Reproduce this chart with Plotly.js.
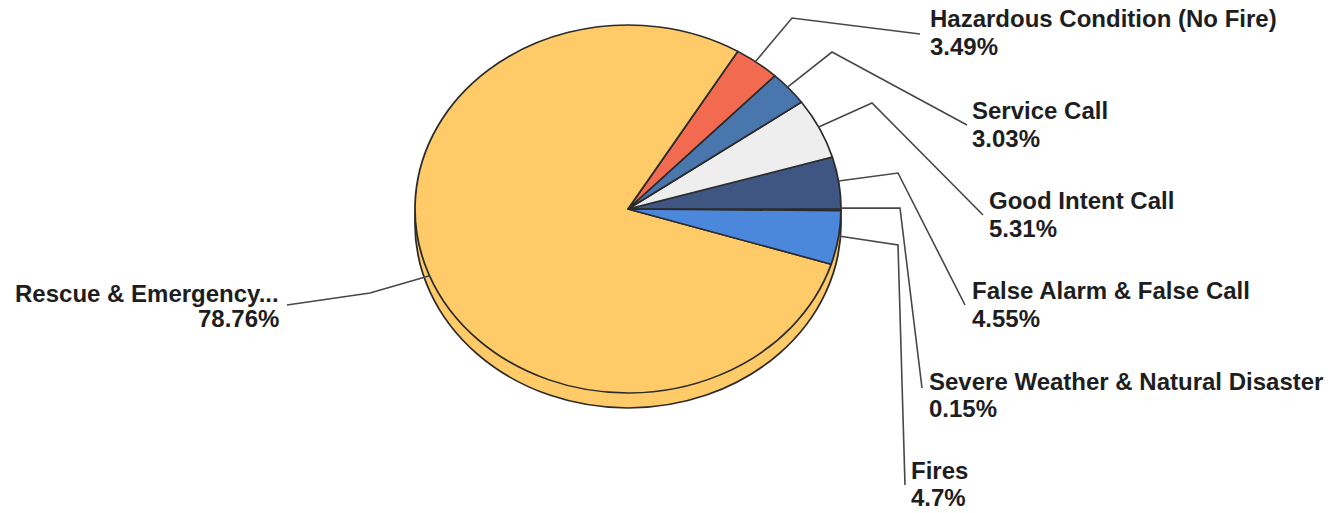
<!DOCTYPE html>
<html>
<head>
<meta charset="utf-8">
<script src="https://cdn.plot.ly/plotly-3.0.1.min.js"></script>
<style>
  html, body { margin: 0; padding: 0; background: #fff; }
  #chart { width: 1335px; height: 513px; }
</style>
</head>
<body>
<div id="chart"></div>
<script>
// ---- data ----
const categories = [
  'Severe Weather & Natural Disaster',
  'False Alarm & False Call',
  'Good Intent Call',
  'Service Call',
  'Hazardous Condition (No Fire)',
  'Rescue & Emergency...',
  'Fires'
];
const percents = [0.15, 4.55, 5.31, 3.03, 3.49, 78.76, 4.7];
const sliceColors = ['#8FAE4E', '#3F5682', '#EEEEEE', '#4A76AE', '#F26B50', '#FFCB69', '#4B87DB'];

// ---- layout for labels / leader lines (pixels) ----
const W = 1335, H = 513;
const CX = 628, CY = 209, RX = 213, RY = 184, DEPTH = 15;
const labelLayout = [
  {x: 927, yName: 381, yPct: 408, anchor: 'left',  bend: [[900, 208]], end: [922, 388]},
  {x: 970, yName: 290, yPct: 318, anchor: 'left',  bend: [[898, 173]], end: [965, 305]},
  {x: 987, yName: 200, yPct: 228, anchor: 'left',  bend: [[872, 103]], end: [983, 215]},
  {x: 970, yName: 110, yPct: 138, anchor: 'left',  bend: [[832, 52]],  end: [967, 125]},
  {x: 928, yName: 18.5, yPct: 46.5, anchor: 'left', bend: [[792, 18]], end: [920, 34]},
  {x: 281, yName: 293, yPct: 318, anchor: 'right', bend: [[370, 293]], end: [287, 305]},
  {x: 909, yName: 470, yPct: 497, anchor: 'left',  bend: [[898, 245]], end: [905, 485]}
];

const px = x => x / W;
const py = y => 1 - y / H;

// pie drawn as circle of radius RX, then squashed vertically to RY
const s = RY / RX;
const preTop = 0;
const preCY = preTop + RX;
const ty = CY - s * preCY;
const preDepth = DEPTH / s;

const frontPie = {
  type: 'pie',
  values: percents,
  labels: categories,
  sort: false,
  direction: 'counterclockwise',
  rotation: 90,
  marker: {colors: sliceColors, line: {color: '#2b2b2b', width: 1.8}},
  textinfo: 'none',
  hoverinfo: 'label+percent',
  showlegend: false,
  domain: {x: [px(CX - RX), px(CX + RX)], y: [py(preTop + 2 * RX), py(preTop)]}
};
const depthPie = {
  type: 'pie',
  values: [percents.reduce((a, b) => a + b, 0)],
  labels: ['depth'],
  sort: false,
  marker: {colors: ['#FFCB69'], line: {color: '#2b2b2b', width: 1.8}},
  textinfo: 'none',
  hoverinfo: 'skip',
  showlegend: false,
  domain: {x: [px(CX - RX), px(CX + RX)], y: [py(preTop + preDepth + 2 * RX), py(preTop + preDepth)]}
};

// leader lines & labels
const total = percents.reduce((a, b) => a + b, 0);
const shapes = [];
const annotations = [];
let cum = 0;
const fontName = {family: 'Arial, "Liberation Sans", sans-serif', size: 24, color: '#1e1e1e'};
percents.forEach((v, i) => {
  const mid = (cum + v / 2) / total * 2 * Math.PI;
  cum += v;
  const ax = CX + RX * Math.cos(mid);
  const ay = CY - RY * Math.sin(mid);
  const L = labelLayout[i];
  let d = `M${px(ax)},${py(ay)}`;
  L.bend.forEach(p => { d += ` L${px(p[0])},${py(p[1])}`; });
  d += ` L${px(L.end[0])},${py(L.end[1])}`;
  shapes.push({type: 'path', xref: 'paper', yref: 'paper', path: d,
               line: {color: '#474747', width: 1.6}});
  annotations.push({xref: 'paper', yref: 'paper', x: px(L.x), y: py(L.yName),
    xanchor: L.anchor, yanchor: 'middle', showarrow: false, align: L.anchor,
    text: '<b>' + categories[i].replace(/&/g, '&amp;') + '</b>', font: fontName});
  annotations.push({xref: 'paper', yref: 'paper', x: px(L.x), y: py(L.yPct),
    xanchor: L.anchor, yanchor: 'middle', showarrow: false, align: L.anchor,
    text: '<b>' + v + '%</b>', font: fontName});
});

const layout = {
  width: W, height: H,
  margin: {l: 0, r: 0, t: 0, b: 0},
  paper_bgcolor: '#ffffff',
  plot_bgcolor: '#ffffff',
  showlegend: false,
  shapes: shapes,
  annotations: annotations
};

Plotly.newPlot('chart', [depthPie, frontPie], layout, {displayModeBar: false, staticPlot: true}).then(() => {
  const pl = document.querySelector('#chart .pielayer');
  if (pl) pl.setAttribute('transform', `translate(0,${ty}) scale(1,${s})`);
});
</script>
</body>
</html>
